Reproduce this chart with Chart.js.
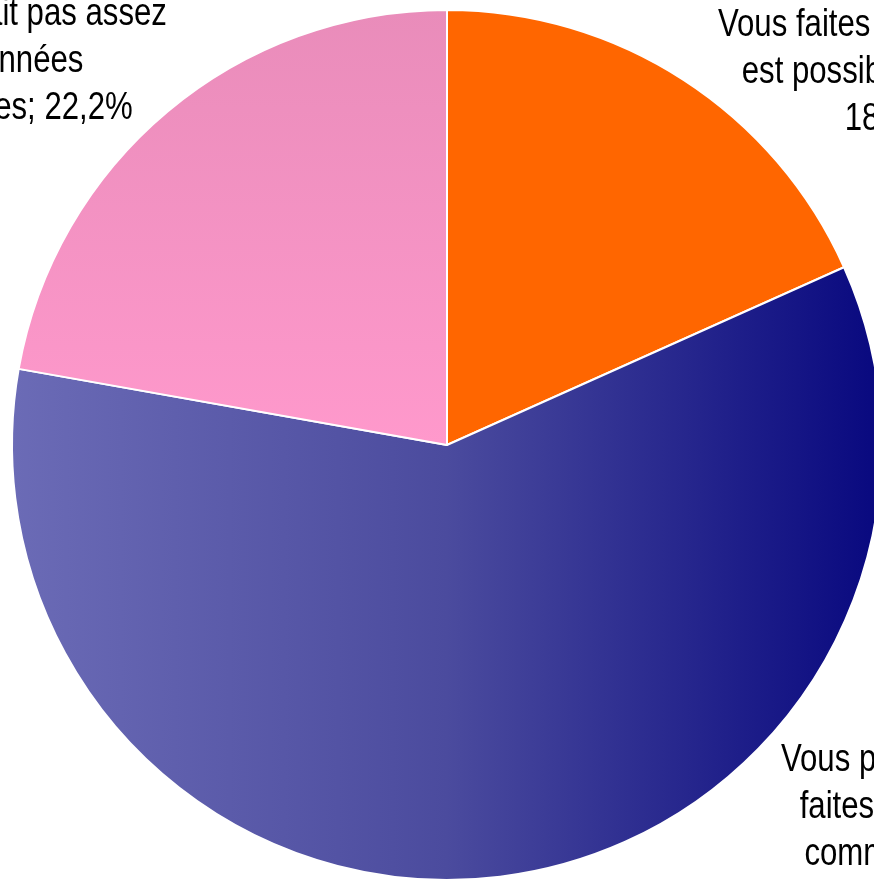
<!DOCTYPE html>
<html lang="fr">
<head>
<meta charset="utf-8">
<title>Répartition des réponses</title>
<script src="https://cdn.jsdelivr.net/npm/chart.js@4.4.1/dist/chart.umd.min.js"></script>
<style>
  html, body { margin: 0; padding: 0; background: #fff; overflow: hidden; }
  #wrap { width: 874px; height: 882px; overflow: hidden; position: relative; }
  #pie { position: absolute; left: 0; top: 0; }
</style>
</head>
<body>
<div id="wrap">
  <canvas id="pie" width="894" height="890"></canvas>
</div>
<script>
// data (percent)
const categories = [
  "Vous faites tout ce qu'il y est possible de faire",
  "Vous pensez que vous y faites tout ce qu'il faut comme il faut",
  "Il n'y en avait pas assez de données disponibles"
];
const values = [18.3, 59.5, 22.2];
const valueLabels = ["18,3%", "59,5%", "22,2%"];

// label text, split in lines like the original
const labelLines = [
  ["Vous faites tout ce qu'il y", "est possible de faire ;", valueLabels[0]],
  ["Vous pensez que vous y", "faites tout ce qu'il faut", "comme il faut; " + valueLabels[1]],
  ["Il n'y en avait pas assez", "de données", "disponibles; " + valueLabels[2]]
];

// no narrow face is installed, so Liberation Sans is squeezed horizontally
const fontFamily = '"Liberation Sans", Arial, sans-serif';
const narrowScale = 0.82;
const lineHeight = 47;
const pieRadius = 435;

// label anchor (first baseline, centre of the lines) relative to pie centre, in radii
const labelAnchors = [
  { dx: 1.016, dy: -0.94 },
  { dx: 1.156, dy: 0.75 },
  { dx: -1.023, dy: -0.966 }
];

function sliceFill(context) {
  const i = context.dataIndex;
  if (i === 0) return '#FF6600';
  const chart = context.chart;
  const area = chart.chartArea;
  if (!area) return i === 1 ? '#4B4B9E' : '#F594C6';
  const cx = (area.left + area.right) / 2;
  const cy = (area.top + area.bottom) / 2;
  const r = pieRadius;
  const ctx = chart.ctx;
  if (i === 1) {
    const g = ctx.createLinearGradient(cx - r, 0, cx + r, 0);
    g.addColorStop(0, '#6B6BB6');
    g.addColorStop(0.5, '#4B4B9E');
    g.addColorStop(1, '#08087F');
    return g;
  }
  const g = ctx.createLinearGradient(0, cy - r, 0, cy);
  g.addColorStop(0, '#E98CBA');
  g.addColorStop(1, '#FF99CC');
  return g;
}

const outsideLabels = {
  id: 'outsideLabels',
  afterDatasetsDraw(chart) {
    const meta = chart.getDatasetMeta(0);
    const ctx = chart.ctx;
    meta.data.forEach((arc, i) => {
      const a = labelAnchors[i];
      const x = arc.x + a.dx * arc.outerRadius;
      const y = arc.y + a.dy * arc.outerRadius;
      labelLines[i].forEach((line, k) => {
        ctx.save();
        ctx.translate(x, y + k * lineHeight);
        ctx.scale(narrowScale, 1);
        ctx.fillStyle = '#000';
        ctx.font = '38px ' + fontFamily;
        ctx.textAlign = 'center';
        ctx.textBaseline = 'alphabetic';
        ctx.fillText(line, 0, 0);
        ctx.restore();
      });
    });
  }
};

new Chart(document.getElementById('pie'), {
  type: 'pie',
  data: {
    labels: categories,
    datasets: [{
      data: values,
      backgroundColor: sliceFill,
      borderColor: '#ffffff',
      borderWidth: 2
    }]
  },
  options: {
    responsive: false,
    animation: false,
    radius: pieRadius,
    layout: { padding: 0 },
    plugins: {
      legend: { display: false },
      tooltip: { enabled: false }
    }
  },
  plugins: [outsideLabels]
});
</script>
</body>
</html>
